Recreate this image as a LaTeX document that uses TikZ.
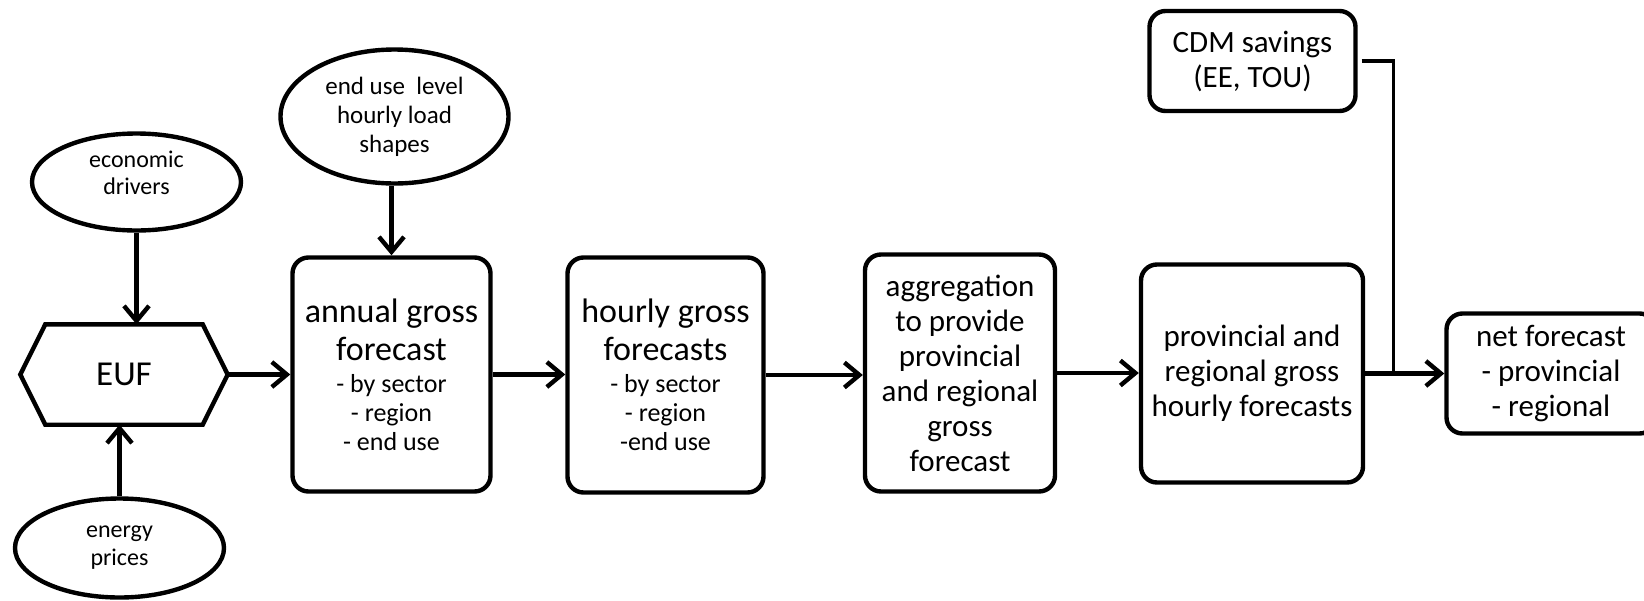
\documentclass[tikz,border=0pt]{standalone}
\usepackage{fontspec}
\setmainfont{Carlito}
\usetikzlibrary{arrows.meta,shapes.geometric,calc}
\newcommand\fBig{\fontsize{34}{38}\selectfont}
\newcommand\fList{\fontsize{26}{29}\selectfont}
\newcommand\fMid{\fontsize{31}{35}\selectfont}
\tikzset{
  lw/.style={line width=4.4pt},
  rbox/.style={draw, lw, rounded corners=16pt, align=center, inner sep=0pt},
  oval/.style={draw, lw, ellipse, align=center, inner sep=0pt},
  arr/.style={lw, -{Straight Barb[length=15pt,width=25pt]}},
  feed/.style={line width=3.2pt},
}
\begin{document}
\begin{tikzpicture}[x=1pt,y=-1pt]
\useasboundingbox (0,0) rectangle (1644,600);
\clip (0,0) rectangle (1644,600);
\fill[white] (0,0) rectangle (1644,600);

% inputs
\node[oval, minimum width=209pt, minimum height=97pt, text depth=18pt, font=\fontsize{24}{27}\selectfont] (econ) at (136.5,182) {economic\\drivers};
\node[oval, minimum width=209pt, minimum height=99pt, font=\fontsize{24}{28}\selectfont] (prices) at (119.5,548) {energy\\prices};
\node[oval, minimum width=228pt, minimum height=134pt, font=\fontsize{25}{29}\selectfont] (enduse) at (394.5,116.5) {end use~ level\\hourly load\\shapes};

% EUF hexagon
\node[minimum width=207pt, minimum height=100pt, inner sep=0pt, font=\fontsize{35}{40}\selectfont] (euf) at (124,374.5) {EUF};
\draw[lw] (euf.west) -- ([xshift=25pt]euf.north west) -- ([xshift=-25pt]euf.north east) -- (euf.east) -- ([xshift=-25pt]euf.south east) -- ([xshift=25pt]euf.south west) -- cycle;

% process boxes
\node[rbox, minimum width=198pt, minimum height=234pt, font=\fBig] (annual) at (391.5,374.5)
  {annual gross\\forecast\\[-6pt]{\fList - by sector}\\[-9pt]{\fList - region}\\[-9pt]{\fList - end use}};
\node[rbox, minimum width=196pt, minimum height=235pt, font=\fBig] (hourly) at (665.5,375)
  {hourly gross\\forecasts\\[-6pt]{\fList - by sector}\\[-9pt]{\fList - region}\\[-9pt]{\fList -end use}};
\node[rbox, minimum width=190pt, minimum height=237pt, font=\fMid] (agg) at (960,373)
  {aggregation\\to provide\\provincial\\and regional\\gross\\forecast};
\node[rbox, minimum width=222pt, minimum height=218pt, font=\fMid] (prov) at (1252,373.5)
  {provincial and\\regional gross\\hourly forecasts};
\node[rbox, minimum width=206pt, minimum height=100pt, font=\fMid] (cdm) at (1252.5,61)
  {CDM savings\\(EE, TOU)};
\node[rbox, minimum width=209pt, minimum height=120pt, font=\fMid] (net) at (1551,373.5)
  {net forecast\\- provincial\\- regional};

% connectors
\draw[arr] (econ.south) -- (econ.south |- euf.north);
\draw[arr] (prices.north) -- (prices.north |- euf.south);
\draw[arr] (annual.north |- enduse.south) -- (annual.north);
\draw[arr] (euf.east) -- (euf.east -| annual.west);
\draw[arr] (annual.east) -- (annual.east -| hourly.west);
\draw[arr] (hourly.east) -- (hourly.east -| agg.west);
\draw[arr] (agg.east) -- (agg.east -| prov.west);
\draw[arr] (prov.east) -- (prov.east -| net.west);
\coordinate (j) at ($(prov.east)+(28,0)$);
\draw[feed] ([xshift=4pt]cdm.east) -| (j);
\end{tikzpicture}
\end{document}
